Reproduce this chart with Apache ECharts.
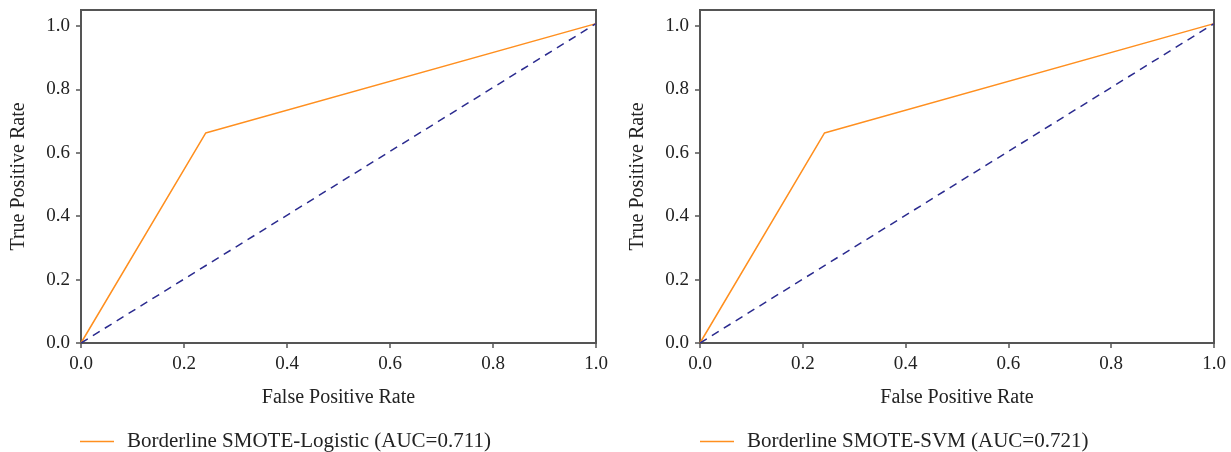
<!DOCTYPE html>
<html>
<head>
<meta charset="utf-8">
<script src="https://cdn.jsdelivr.net/npm/echarts@6/dist/echarts.min.js"></script>
<style>
html, body { margin: 0; padding: 0; background: #fff; }
#main { width: 1231px; height: 452px; }
</style>
</head>
<body>
<div id="main"></div>
<script>
// ROC points
var logisticFpr = [0.0, 0.242, 1.0];
var logisticTpr = [0.0, 0.662, 1.007];
var svmFpr = [0.0, 0.242, 1.0];
var svmTpr = [0.0, 0.662, 1.007];
var chanceFpr = [0.0, 1.0];
var chanceTpr = [0.0, 1.007];
var tickValues = [0, 0.2, 0.4, 0.6, 0.8, 1.0];
var seriesNames = ['Borderline SMOTE-Logistic (AUC=0.711)', 'Borderline SMOTE-SVM (AUC=0.721)'];

var fontName = 'Liberation Serif';
var axisColor = '#555';
var orange = '#ff8f1f';
var navy = '#2b2b8f';

function pairs(xs, ys) {
	var out = [];
	for (var i = 0; i < xs.length; i++) {
		out.push([xs[i], ys[i]]);
	}
	return out;
}

function fmt(v) { return v.toFixed(1); }

function makeXAxis(idx) {
	return {
		type: 'value', gridIndex: idx, min: 0, max: 1.0,
		name: 'False Positive Rate', nameLocation: 'middle', nameGap: 45,
		nameTextStyle: { fontFamily: fontName, fontSize: 20, color: '#222' },
		axisLine: { show: true, lineStyle: { color: axisColor, width: 2 } },
		axisTick: { show: true, length: 5, customValues: tickValues, lineStyle: { color: axisColor, width: 1.5 } },
		axisLabel: { customValues: tickValues, formatter: fmt, fontFamily: fontName, fontSize: 19, color: '#222', margin: 12 },
		splitLine: { show: false }
	};
}

function makeYAxis(idx) {
	return {
		type: 'value', gridIndex: idx, min: 0, max: 1.05,
		name: 'True Positive Rate', nameLocation: 'middle', nameGap: 52, nameRotate: 90,
		nameTextStyle: { fontFamily: fontName, fontSize: 20, color: '#222' },
		axisLine: { show: true, lineStyle: { color: axisColor, width: 2 } },
		axisTick: { show: true, length: 5, customValues: tickValues, lineStyle: { color: axisColor, width: 1.5 } },
		axisLabel: { customValues: tickValues, formatter: fmt, fontFamily: fontName, fontSize: 19, color: '#222', margin: 11 },
		splitLine: { show: false }
	};
}

function makeLegend(left, name) {
	return {
		left: left, top: 431, padding: 0, data: [name], icon: 'rect',
		itemWidth: 34, itemHeight: 1.5, itemGap: 10,
		textStyle: { fontFamily: fontName, fontSize: 21, color: '#222', padding: [0, 0, 0, 8] }
	};
}

var chart = echarts.init(document.getElementById('main'));
var option = {
	animation: false,
	grid: [
		{ left: 81, right: 635, top: 10, bottom: 109, show: true, borderColor: axisColor, borderWidth: 2 },
		{ left: 700, right: 17, top: 10, bottom: 109, show: true, borderColor: axisColor, borderWidth: 2 }
	],
	xAxis: [makeXAxis(0), makeXAxis(1)],
	yAxis: [makeYAxis(0), makeYAxis(1)],
	legend: [makeLegend(80, seriesNames[0]), makeLegend(700, seriesNames[1])],
	series: [
		{ name: seriesNames[0], type: 'line', xAxisIndex: 0, yAxisIndex: 0, data: pairs(logisticFpr, logisticTpr),
		  showSymbol: false, lineStyle: { color: orange, width: 1.5 }, itemStyle: { color: orange } },
		{ name: 'chance1', type: 'line', xAxisIndex: 0, yAxisIndex: 0, data: pairs(chanceFpr, chanceTpr),
		  showSymbol: false, lineStyle: { color: navy, width: 1.5, type: [8, 6] } },
		{ name: seriesNames[1], type: 'line', xAxisIndex: 1, yAxisIndex: 1, data: pairs(svmFpr, svmTpr),
		  showSymbol: false, lineStyle: { color: orange, width: 1.5 }, itemStyle: { color: orange } },
		{ name: 'chance2', type: 'line', xAxisIndex: 1, yAxisIndex: 1, data: pairs(chanceFpr, chanceTpr),
		  showSymbol: false, lineStyle: { color: navy, width: 1.5, type: [8, 6] } }
	]
};
chart.setOption(option);
</script>
</body>
</html>
